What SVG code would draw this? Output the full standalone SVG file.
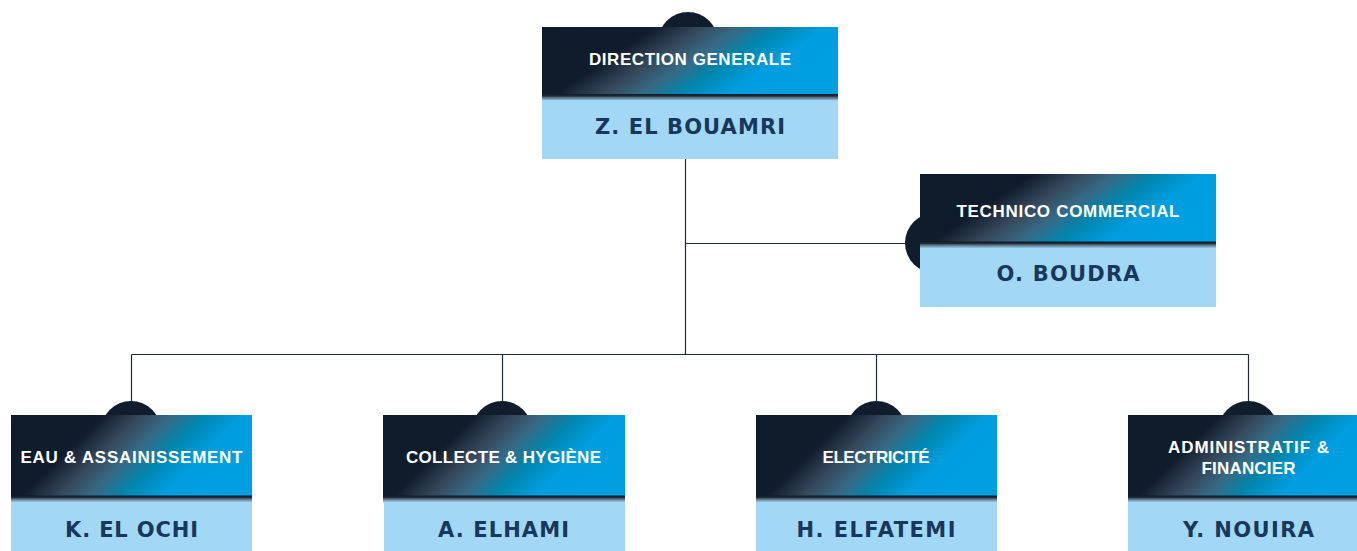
<svg xmlns="http://www.w3.org/2000/svg" width="1357" height="551" viewBox="0 0 1357 551">
  <defs>
    <linearGradient id="head" x1="0" y1="0" x2="1" y2="0.34">
      <stop offset="0" stop-color="#0e1b2a"/>
      <stop offset="0.34" stop-color="#0f1c2c"/>
      <stop offset="0.48" stop-color="#36475a"/>
      <stop offset="0.6" stop-color="#366a85"/>
      <stop offset="0.72" stop-color="#0086ae"/>
      <stop offset="0.86" stop-color="#009ddf"/>
      <stop offset="1" stop-color="#009fe2"/>
    </linearGradient>
    <linearGradient id="sep" x1="0" y1="0" x2="0" y2="1">
      <stop offset="0" stop-color="#0e1b2a"/>
      <stop offset="0.3" stop-color="#1d2b3b"/>
      <stop offset="0.45" stop-color="#4f6174"/>
      <stop offset="1" stop-color="#a2d8f5"/>
    </linearGradient>
    <style>
      .head { fill: url(#head); }
      .sep { fill: url(#sep); }
      .body { fill: #a2d8f5; }
      .cap { fill: #0f1d2c; }
      .title { font-family: "Liberation Sans", Arial, sans-serif; font-weight: 700; font-size: 17px; fill: #ffffff; text-anchor: middle; }
      .name { font-family: "DejaVu Sans", "Liberation Sans", sans-serif; font-weight: 700; font-size: 21px; fill: #18375c; text-anchor: middle; }
      .link { fill: none; stroke: #1f2b3a; stroke-width: 1.2; }
    </style>
  </defs>
  <rect width="1357" height="551" fill="#ffffff"/>

  <g id="connectors">
    <path class="link" d="M685.5 159 V354.5"/>
    <path class="link" d="M685.5 243.5 H910"/>
    <path class="link" d="M131.5 354.5 H1248.5"/>
    <path class="link" d="M131.5 354.5 V405"/>
    <path class="link" d="M502.5 354.5 V405"/>
    <path class="link" d="M876.5 354.5 V405"/>
    <path class="link" d="M1248.5 354.5 V405"/>
  </g>

  <g id="node-direction">
    <circle class="cap" cx="688" cy="42" r="30"/>
    <rect class="head" x="542" y="27" width="296" height="68"/>
    <rect class="sep" x="542" y="94" width="296" height="7"/>
    <rect class="body" x="542" y="100.5" width="296" height="58.5"/>
    <text class="title" x="690" y="65" textLength="202" lengthAdjust="spacing">DIRECTION GENERALE</text>
    <text class="name" x="690" y="133.5" textLength="190" lengthAdjust="spacing">Z. EL BOUAMRI</text>
  </g>

  <g id="node-technico">
    <circle class="cap" cx="935" cy="243" r="30"/>
    <rect class="head" x="920" y="174" width="296" height="68"/>
    <rect class="sep" x="920" y="241.5" width="296" height="7"/>
    <rect class="body" x="920" y="248" width="296" height="59"/>
    <text class="title" x="1068" y="216.7" textLength="223" lengthAdjust="spacing">TECHNICO COMMERCIAL</text>
    <text class="name" x="1068" y="281" textLength="143" lengthAdjust="spacing">O. BOUDRA</text>
  </g>

  <g id="node-eau">
    <circle class="cap" cx="131" cy="431" r="30"/>
    <rect class="head" x="11" y="415" width="241" height="81"/>
    <rect class="sep" x="11" y="495.5" width="241" height="7"/>
    <rect class="body" x="11" y="502" width="241" height="49"/>
    <text class="title" x="131.5" y="463" textLength="222" lengthAdjust="spacing">EAU &amp; ASSAINISSEMENT</text>
    <text class="name" x="131.5" y="536.7" textLength="133" lengthAdjust="spacing">K. EL OCHI</text>
  </g>

  <g id="node-collecte">
    <circle class="cap" cx="502" cy="431" r="30"/>
    <rect class="head" x="383" y="415" width="242" height="81"/>
    <rect class="sep" x="383" y="495.5" width="242" height="7"/>
    <rect class="body" x="384" y="502" width="241" height="49"/>
    <text class="title" x="503.5" y="463" textLength="195" lengthAdjust="spacing">COLLECTE &amp; HYGIÈNE</text>
    <text class="name" x="503.5" y="536.7" textLength="131" lengthAdjust="spacing">A. ELHAMI</text>
  </g>

  <g id="node-electricite">
    <circle class="cap" cx="876.5" cy="431" r="30"/>
    <rect class="head" x="756" y="415" width="241" height="81"/>
    <rect class="sep" x="756" y="495.5" width="241" height="7"/>
    <rect class="body" x="756" y="502" width="241" height="49"/>
    <text class="title" x="876" y="463" textLength="107" lengthAdjust="spacing">ELECTRICITÉ</text>
    <text class="name" x="876" y="536.7" textLength="159" lengthAdjust="spacing">H. ELFATEMI</text>
  </g>

  <g id="node-administratif">
    <circle class="cap" cx="1248.3" cy="431" r="30"/>
    <rect class="head" x="1128" y="415" width="241" height="81"/>
    <rect class="sep" x="1128" y="495.5" width="241" height="7"/>
    <rect class="body" x="1128" y="502" width="241" height="49"/>
    <text class="title" x="1248.5" y="453" textLength="161" lengthAdjust="spacing">ADMINISTRATIF &amp;</text>
    <text class="title" x="1248.5" y="473.5" textLength="94" lengthAdjust="spacing">FINANCIER</text>
    <text class="name" x="1248.5" y="536.7" textLength="131" lengthAdjust="spacing">Y. NOUIRA</text>
  </g>
</svg>
